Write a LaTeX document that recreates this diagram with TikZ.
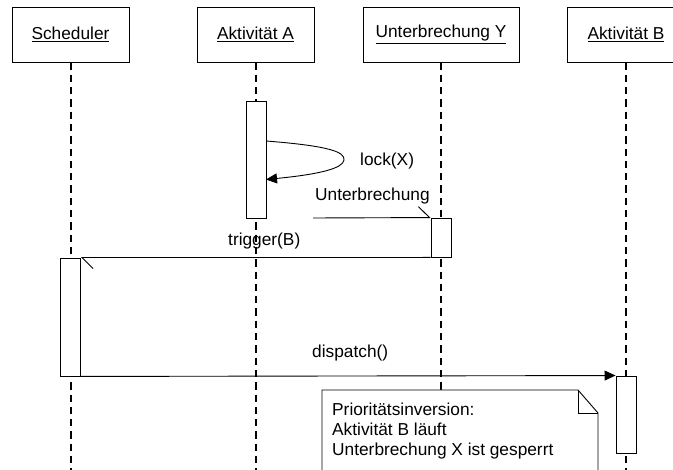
\documentclass[tikz,border=0pt]{standalone}
\usepackage{fontspec}
\setmainfont{Liberation Sans}
\usetikzlibrary{arrows.meta}
\begin{document}
\begin{tikzpicture}[x=1pt,y=-1pt,
  every node/.style={font=\fontsize{17.3}{20}\selectfont, inner sep=0pt},
  headbox/.style={draw=black, line width=0.9pt, fill=white, minimum height=55pt},
  lifeline/.style={line width=2pt, dash pattern=on 7.3pt off 5pt},
  actbox/.style={draw=black, line width=0.9pt, fill=white, minimum width=20pt},
  msg/.style={line width=0.9pt},
  syncmsg/.style={msg, -{Triangle[length=11pt,width=10pt]}},
  asyncmsg/.style={msg, -{Straight Barb[left,length=11pt,width=22pt]}},
  label/.style={anchor=base west}]
\useasboundingbox (0,0) rectangle (673,470);
\clip (0,0) rectangle (673,470);

% object heads
\node[headbox, minimum width=117pt] (sched) at (70.5,34.5) {\underline{Scheduler}};
\node[headbox, minimum width=117pt] (aktA) at (255.5,34.5) {\underline{Aktivität A}};
\node[headbox, minimum width=156pt] (unterY) at (441,34.5) {\underline{Unterbrechung Y}};
\node[headbox, minimum width=118pt] (aktB) at (626,34.5) {\underline{Aktivität B}};

% lifeline ends
\coordinate (schedEnd) at (70.5,472);
\coordinate (aktAEnd) at (255.5,472);
\coordinate (unterYEnd) at (441,472);
\coordinate (aktBEnd) at (626,472);

\draw[lifeline] (sched.south) -- (schedEnd);
\draw[lifeline] (aktA.south) -- (aktAEnd);
\draw[lifeline] (unterY.south) -- (unterYEnd);
\draw[lifeline] (aktB.south) -- (aktBEnd);

% activations
\node[actbox, minimum height=117pt] (actA) at (256,159.5) {};
\node[actbox, minimum height=39pt] (actY) at (441,237.5) {};
\node[actbox, minimum height=118pt] (actS) at (70.5,317) {};
\node[actbox, minimum height=77pt] (actB) at (626,414.5) {};

% self call on Aktivität A
\coordinate (lockOut) at (266,141);
\coordinate (lockIn) at (266,179.5);
\draw[syncmsg] (lockOut) .. controls (330,146) and (345,152) .. (344,160)
  .. controls (343,168) and (322,174) .. (lockIn);
\node[label] (lockLbl) at (360,166) {lock(X)};

% interrupt arrives
\coordinate (found) at (313,218);
\draw[asyncmsg] (found) -- (actY.north west);
\node[label] (unterLbl) at (315,201) {Unterbrechung};

% interrupt triggers scheduler
\draw[asyncmsg] (actY.south west) -- (actS.north east);
\node[label] (trigLbl) at (228,246) {trigger(B)};

% scheduler dispatches B
\draw[syncmsg] (actS.south east) -- (actB.north west);
\node[label] (dispLbl) at (312,358) {dispatch()};

% note
\draw[line width=0.9pt, fill=white] (322,390) -- (578,390) -- (598,413) -- (598,480) -- (322,480) -- cycle;
\draw[line width=0.9pt] (578,390) -- (578,413) -- (598,413);
\node[label] (note1) at (332,416) {Prioritätsinversion:};
\node[label] (note2) at (332,436) {Aktivität B läuft};
\node[label] (note3) at (332,456) {Unterbrechung X ist gesperrt};
\end{tikzpicture}
\end{document}
